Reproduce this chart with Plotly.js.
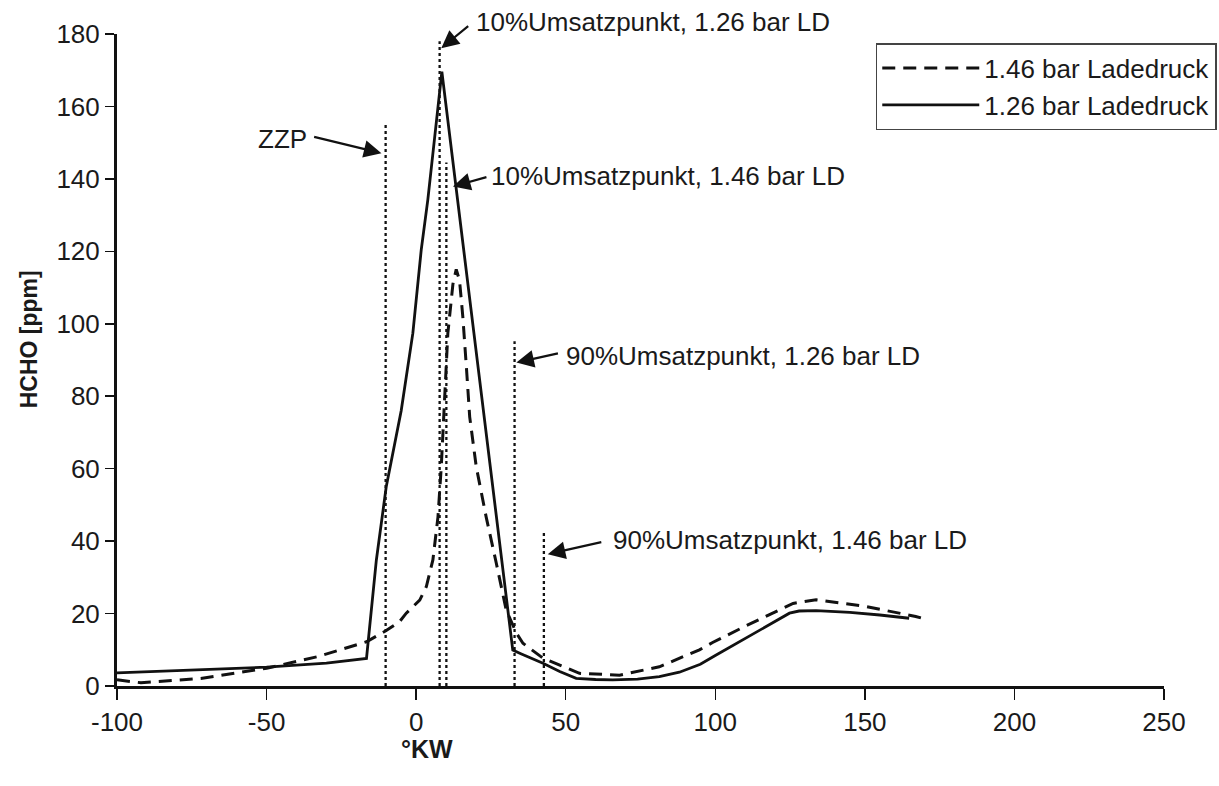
<!DOCTYPE html>
<html>
<head>
<meta charset="utf-8">
<script src="https://cdn.plot.ly/plotly-3.0.1.min.js"></script>
<style>html,body{margin:0;padding:0;background:#fff;}#chart{width:1219px;height:786px;}</style>
</head>
<body>
<div id="chart"></div>
<script>
// Series: 1.46 bar Ladedruck (dashed)
const x146 = [-100, -92, -72, -50, -33, -16.6, -10, -5.5, -3.3, 1.2, 3.4, 5.6, 7.3, 8.4, 9.5, 10.6, 12.3, 13.4, 14.5, 15.6, 16.8, 17.9, 20.1, 23.4, 26.8, 30.1, 33.5, 35.7, 42.4, 54.6, 68, 81.3, 94.7, 99.1, 110, 121.4, 126, 133.7, 150, 167, 170.4];
const y146 = [1.7, 0.9, 2.1, 4.9, 8.1, 12.2, 15.3, 17.8, 20.1, 23.7, 27.4, 34.8, 46.7, 60.5, 79, 97.4, 111, 115, 112, 102, 88, 74.3, 60.5, 46.7, 33.9, 21, 14.6, 11.8, 7.7, 3.5, 3.0, 5.3, 10.0, 12.0, 16.5, 21.0, 22.8, 23.8, 22.0, 19.2, 18.4];

// Series: 1.26 bar Ladedruck (solid)
const x126 = [-100, -75, -50, -30, -16.6, -13.3, -10, -5, -1.1, 1.7, 3.9, 8.6, 32.3, 35, 42.4, 48, 53.5, 60, 65.7, 74, 81.3, 88, 95, 100, 110, 120, 124.8, 128, 133.7, 145, 155, 164.8];
const y126 = [3.6, 4.3, 5.2, 6.3, 7.6, 34.8, 55.0, 76, 97.4, 120.4, 134.2, 169.6, 9.9, 8.9, 6.3, 4.0, 2.1, 1.8, 1.7, 1.9, 2.6, 3.8, 6.0, 8.4, 13.1, 17.8, 20.1, 20.7, 20.8, 20.3, 19.6, 18.7];

// Vertical marker lines (°KW position, top value)
const markerNames = ["ZZP", "10% 1.26", "10% 1.46", "90% 1.26", "90% 1.46"];
const markerX = [-10.2, 7.85, 10.1, 32.9, 42.7];
const markerTop = [155.6, 178, 144.5, 95.2, 43.1];

// Annotation labels (x in °KW, y in ppm)
const labelTexts = ["ZZP", "10%Umsatzpunkt, 1.26 bar LD", "10%Umsatzpunkt, 1.46 bar LD", "90%Umsatzpunkt, 1.26 bar LD", "90%Umsatzpunkt, 1.46 bar LD"];
const labelX = [-53.6, 19.3, 24.3, 49.4, 65.0];
const labelY = [150.9, 183.3, 140.8, 91.2, 40.3];
const arrowHeadX = [-11.6, 8.4, 12.3, 33.5, 44.0];
const arrowHeadY = [147.1, 176.1, 137.9, 89.3, 36.4];
const arrowTailX = [-34.6, 17.9, 24.0, 47.9, 62.4];
const arrowTailY = [151.7, 182.5, 140.6, 91.9, 39.8];

const xTicks = [-100, -50, 0, 50, 100, 150, 200, 250];
const yTicks = [0, 20, 40, 60, 80, 100, 120, 140, 160, 180];

const Y_MAX = 180;
const FONT = "Liberation Sans, Arial, sans-serif";
const TXT = "#1a1a1a";
const traces = [];
traces.push({x: x146, y: y146, mode: "lines", name: "1.46 bar Ladedruck",
  line: {color: "#111", width: 3, dash: "13px,8px"}, cliponaxis: false});
traces.push({x: x126, y: y126, mode: "lines", name: "1.26 bar Ladedruck",
  line: {color: "#111", width: 2.8}, cliponaxis: false});
for (let i = 0; i < markerX.length; i++) {
  traces.push({x: [markerX[i], markerX[i]], y: [0, markerTop[i]], mode: "lines",
    name: markerNames[i], showlegend: false, hoverinfo: "skip",
    line: {color: "#111", width: 2.3, dash: "dot"}, cliponaxis: false});
}

const annotations = [];
for (let i = 0; i < labelTexts.length; i++) {
  annotations.push({x: arrowHeadX[i], y: arrowHeadY[i], xref: "x", yref: "y",
    ax: arrowTailX[i], ay: arrowTailY[i], axref: "x", ayref: "y",
    text: "", showarrow: true, arrowhead: 2, arrowsize: 1.6, arrowwidth: 2.2, arrowcolor: "#111"});
  annotations.push({x: labelX[i], y: labelY[i] / Y_MAX, xref: "x", yref: "paper", text: labelTexts[i],
    showarrow: false, xanchor: "left", yanchor: "middle",
    font: {family: FONT, size: 26, color: TXT}});
}
annotations.push({x: 0.2963, y: -0.097, xref: "paper", yref: "paper", text: "<b>°KW</b>",
  showarrow: false, xanchor: "center", yanchor: "middle", font: {family: FONT, size: 25, color: TXT}});
annotations.push({x: -0.0845, y: 0.531, xref: "paper", yref: "paper", text: "<b>HCHO [ppm]</b>",
  showarrow: false, textangle: -90, xanchor: "center", yanchor: "middle", font: {family: FONT, size: 23, color: TXT}});

const layout = {
  width: 1219, height: 786,
  margin: {l: 116.5, r: 54.5, t: 34, b: 100, pad: 0, autoexpand: false},
  paper_bgcolor: "#fff", plot_bgcolor: "#fff",
  font: {family: FONT, size: 26, color: TXT},
  xaxis: {range: [-100, 250], tickvals: xTicks, ticktext: xTicks.map(String), showgrid: false, zeroline: false,
    showline: true, linecolor: "#111", linewidth: 3, ticks: "outside", ticklen: 11, tickwidth: 1.5, tickcolor: "#111",
    tickfont: {family: FONT, size: 26, color: TXT}},
  yaxis: {range: [0, 180], tickvals: yTicks, ticktext: yTicks.map(String), showgrid: false, zeroline: false,
    showline: true, linecolor: "#111", linewidth: 3, ticks: "outside", ticklen: 9, tickwidth: 1.5, tickcolor: "#111",
    tickfont: {family: FONT, size: 26, color: TXT}},
  showlegend: true,
  legend: {x: 0.7247, y: 0.986, xanchor: "left", yanchor: "top", bordercolor: "#444", borderwidth: 1.5,
    bgcolor: "#fff", itemwidth: 97, font: {family: FONT, size: 26, color: TXT}},
  annotations: annotations
};
Plotly.newPlot("chart", traces, layout, {displayModeBar: false, staticPlot: true});
</script>
</body>
</html>
